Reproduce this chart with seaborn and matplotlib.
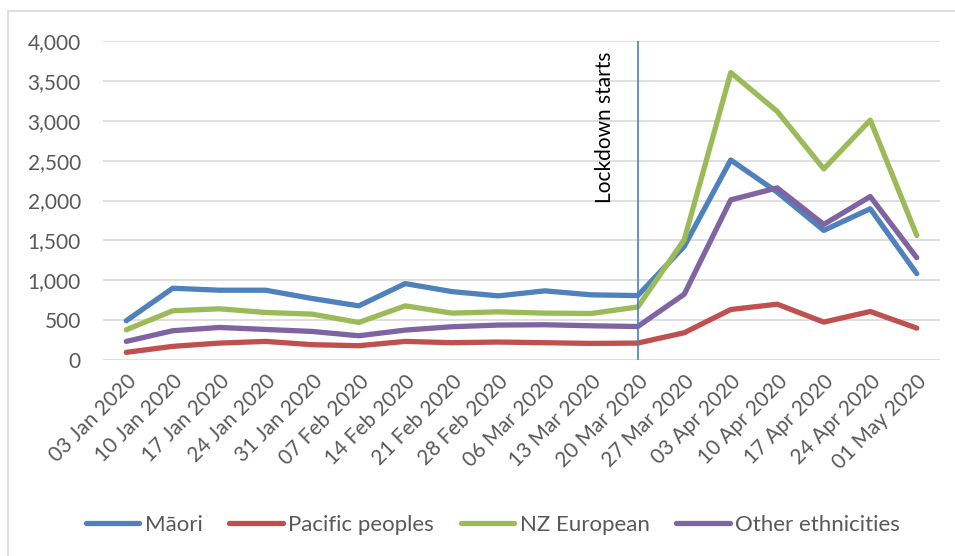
import numpy as np
import pandas as pd
import matplotlib
matplotlib.use("Agg")
import matplotlib.pyplot as plt
import seaborn as sns
from matplotlib.lines import Line2D

dates = ["03 Jan 2020", "10 Jan 2020", "17 Jan 2020", "24 Jan 2020", "31 Jan 2020",
         "07 Feb 2020", "14 Feb 2020", "21 Feb 2020", "28 Feb 2020", "06 Mar 2020",
         "13 Mar 2020", "20 Mar 2020", "27 Mar 2020", "03 Apr 2020", "10 Apr 2020",
         "17 Apr 2020", "24 Apr 2020", "01 May 2020"]
maori = [492, 900, 875, 875, 771, 679, 958, 858, 804, 867, 817, 808,
         1425, 2508, 2104, 1625, 1896, 1083]
pacific = [96, 171, 212, 233, 192, 179, 233, 217, 225, 217, 208, 212,
           342, 633, 700, 475, 608, 400]
nz_european = [379, 617, 642, 596, 575, 471, 679, 588, 604, 588, 583, 665,
               1508, 3604, 3117, 2396, 3008, 1562]
other = [233, 367, 408, 383, 358, 304, 375, 417, 438, 442, 429, 420,
         825, 2008, 2158, 1700, 2050, 1283]
series_names = ["Māori", "Pacific peoples", "NZ European", "Other ethnicities"]
colors = ["#4F81BD", "#C0504D", "#9BBB59", "#8064A2"]
lockdown_date = "20 Mar 2020"
lockdown_label = "Lockdown starts"
yticks = [0, 500, 1000, 1500, 2000, 2500, 3000, 3500, 4000]

rows = []
for name, vals in zip(series_names, [maori, pacific, nz_european, other]):
    for d, v in zip(dates, vals):
        rows.append({"date": d, "value": v, "group": name})
df = pd.DataFrame(rows)

sns.set_style("white")
plt.rcParams["font.family"] = ["Lato", "DejaVu Sans"]
text_color = "#595959"
fs = 15
lfs = 16

fig = plt.figure(figsize=(9.55, 5.56), dpi=100)
ax = fig.add_axes([103/955, 1-360/556, (940-103)/955, (360-41)/556])

x_map = {d: i for i, d in enumerate(dates)}
df["x"] = df["date"].map(x_map)
sns.lineplot(data=df, x="x", y="value", hue="group", hue_order=series_names,
             palette=colors, linewidth=3.8, ax=ax, legend=False, sort=False,
             solid_capstyle="round", solid_joinstyle="round", zorder=3)

ax.set_xlim(-0.5, len(dates) - 0.5)
ax.set_ylim(0, 4000)
ax.set_yticks(yticks)
ax.set_yticklabels([f"{t:,}" for t in yticks])
ax.set_xticks(range(len(dates)))
ax.set_xticklabels(dates, rotation=45, ha="right", rotation_mode="anchor")
ax.tick_params(axis="both", length=0, labelsize=fs, labelcolor=text_color)
ax.tick_params(axis="y", pad=16)
ax.tick_params(axis="x", pad=8)
ax.grid(axis="y", color="#D9D9D9", linewidth=1.2, zorder=0)
ax.set_axisbelow(True)
for s in ax.spines.values():
    s.set_visible(False)
ax.set_xlabel("")
ax.set_ylabel("")

lx = dates.index(lockdown_date)
ax.axvline(lx, ymin=0, ymax=1, color="#4A7EBB", linewidth=1.2, zorder=4)
ax.text(lx - 0.7, 3870, lockdown_label, rotation=90, ha="center", va="top",
        fontsize=fs, color="black")

handles = [Line2D([0], [0], color=c, linewidth=3.8, solid_capstyle="round") for c in colors]
fig.legend(handles, series_names, loc="center", bbox_to_anchor=(493/955, 1-525/556),
           ncol=4, frameon=False, fontsize=lfs, labelcolor=text_color,
           handlelength=2.4, handletextpad=0.25, columnspacing=1.2)

fig.add_artist(Line2D([8/955, 8/955], [0, 1-11/556], transform=fig.transFigure,
                      color="#D9D9D9", linewidth=1.2))
fig.add_artist(Line2D([8/955, 1], [1-11/556, 1-11/556], transform=fig.transFigure,
                      color="#D9D9D9", linewidth=1.2))

fig.savefig("out.png", dpi=100)
